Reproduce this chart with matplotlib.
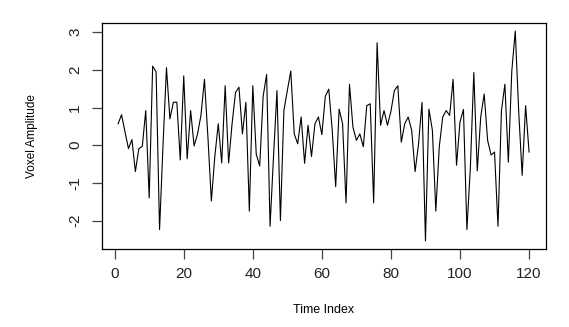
import numpy as np
import matplotlib
matplotlib.use("Agg")
import matplotlib.pyplot as plt

plt.rcParams['font.family'] = ['Liberation Sans', 'DejaVu Sans']

# voxel time series (t = 1..120)
amplitude = [
    0.57, 0.81, 0.35, -0.09, 0.15, -0.70, -0.09, -0.03, 0.92, -1.40,
    2.10, 1.95, -2.24, 0.00, 2.06, 0.70, 1.14, 1.14, -0.39, 1.84,
    -0.36, 0.92, -0.02, 0.30, 0.80, 1.75, 0.22, -1.48, -0.30, 0.57,
    -0.47, 1.58, -0.47, 0.57, 1.40, 1.54, 0.30, 1.14, -1.75, 1.58,
    -0.24, -0.55, 1.30, 1.88, -2.15, -0.30, 1.45, -2.00, 0.92, 1.45,
    1.97, 0.30, 0.04, 0.75, -0.48, 0.53, -0.30, 0.57, 0.75, 0.28,
    1.30, 1.49, 0.40, -1.10, 0.96, 0.57, -1.53, 1.62, 0.48, 0.13,
    0.30, -0.04, 1.05, 1.10, -1.53, 2.72, 0.53, 0.92, 0.53, 0.90,
    1.45, 1.58, 0.08, 0.57, 0.75, 0.40, -0.70, 0.04, 1.14, -2.54,
    0.96, 0.40, -1.75, -0.04, 0.75, 0.92, 0.79, 1.75, -0.53, 0.62,
    0.95, -2.24, -0.60, 1.93, -0.68, 0.75, 1.36, 0.13, -0.26, -0.18,
    -2.15, 0.92, 1.62, -0.45, 1.97, 3.03, 0.90, -0.80, 1.05, -0.18,
]
time_index = np.arange(1, len(amplitude) + 1)

x_ticks = [0, 20, 40, 60, 80, 100, 120]
y_ticks = [-2, -1, 0, 1, 2, 3]

fig = plt.figure(figsize=(5.69, 3.27), dpi=100)
ax = fig.add_axes([0.1787, 0.2376, 0.78, 0.693])

ax.plot(time_index, amplitude, color='black', linewidth=0.8)

# R style 4% padding on both axes
def padded(lo, hi):
    p = 0.04 * (hi - lo)
    return lo - p, hi + p

ax.set_xlim(*padded(time_index.min(), time_index.max()))
ax.set_ylim(*padded(min(amplitude), max(amplitude)))

ax.set_xticks(x_ticks)
ax.set_yticks(y_ticks)
ax.set_yticklabels([str(v) for v in y_ticks], rotation=90, va='center')
ax.tick_params(axis='both', length=7, width=0.9, color='#444444',
               labelsize=11, labelcolor='#222222')
ax.tick_params(axis='x', pad=6)
ax.tick_params(axis='y', pad=7)

for s in ax.spines.values():
    s.set_linewidth(0.9)
    s.set_color('black')

ax.set_xlabel("Time Index", fontsize=9, labelpad=16)
ax.set_ylabel("Voxel Amplitude", fontsize=8.5, labelpad=22)

fig.savefig("out.png", dpi=100)
